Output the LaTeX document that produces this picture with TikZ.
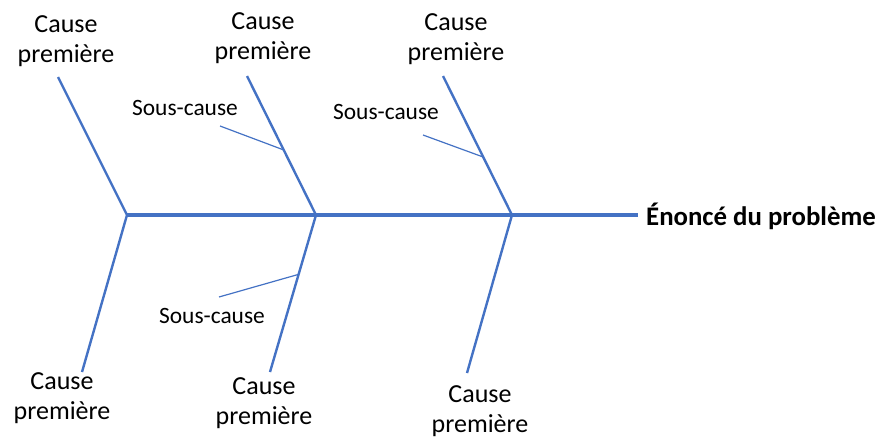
\documentclass[tikz,border=0pt]{standalone}
\usepackage{fontspec}
\setmainfont{Carlito}
\usetikzlibrary{calc}
\definecolor{fishblue}{HTML}{4472C4}
\tikzstyle{spine} = [draw=fishblue, line width=3.3pt]
\tikzstyle{bone} = [draw=fishblue, line width=2.4pt]
\tikzstyle{subbone} = [draw=fishblue, line width=1.2pt]
\tikzstyle{cause} = [align=center, inner sep=0pt, font=\fontsize{26}{30}\selectfont]
\tikzstyle{subcause} = [inner sep=0pt, font=\fontsize{23.4}{28}\selectfont]
\tikzstyle{effect} = [inner sep=0pt, font=\fontsize{26.8}{30}\selectfont\bfseries]

\begin{document}
\begin{tikzpicture}[x=1pt, y=-1pt]
               \useasboundingbox (0,0) rectangle (878,437);
               % spine
               \coordinate (j1) at (127,215);
               \coordinate (j2) at (316,215);
               \coordinate (j3) at (512,215);
               \coordinate (head) at (638,215);
               % bone ends
               \coordinate (t1) at (58,77);
               \coordinate (t2) at (247,76);
               \coordinate (t3) at (443,76);
               \coordinate (b1) at (82,372);
               \coordinate (b2) at (270,372);
               \coordinate (b3) at (467,373);
               % sub-cause ends
               \coordinate (s1) at (220,126);
               \coordinate (s2) at (423,135);
               \coordinate (s3) at (219,297);
               \coordinate (s1on) at ($(j2)!0.468!(t2)$);
               \coordinate (s2on) at ($(j3)!0.417!(t3)$);
               \coordinate (s3on) at ($(j2)!0.378!(b2)$);
               % labels
               \node [cause, anchor=north] at (66,15) (c1) {Cause\\première};
               \node [cause, anchor=north] at (263,12) (c2) {Cause\\première};
               \node [cause, anchor=north] at (456,13) (c3) {Cause\\première};
               \node [cause, anchor=north] at (62,372) (c4) {Cause\\première};
               \node [cause, anchor=north] at (264,377) (c5) {Cause\\première};
               \node [cause, anchor=north] at (480,385) (c6) {Cause\\première};
               \node [subcause, anchor=base] at (185,115) (sc1) {Sous-cause};
               \node [subcause, anchor=base] at (386,119) (sc2) {Sous-cause};
               \node [subcause, anchor=base] at (212,323) (sc3) {Sous-cause};
               \node [effect, anchor=base west] at (646,225) (effect) {Énoncé du problème};
               \draw [spine] (j1) -- (head);
               \draw [bone] (t1) -- (j1) -- (b1);
               \draw [bone] (t2) -- (j2) -- (b2);
               \draw [bone] (t3) -- (j3) -- (b3);
               \draw [subbone] (s1) -- (s1on);
               \draw [subbone] (s2) -- (s2on);
               \draw [subbone] (s3) -- (s3on);
\end{tikzpicture}
\end{document}
